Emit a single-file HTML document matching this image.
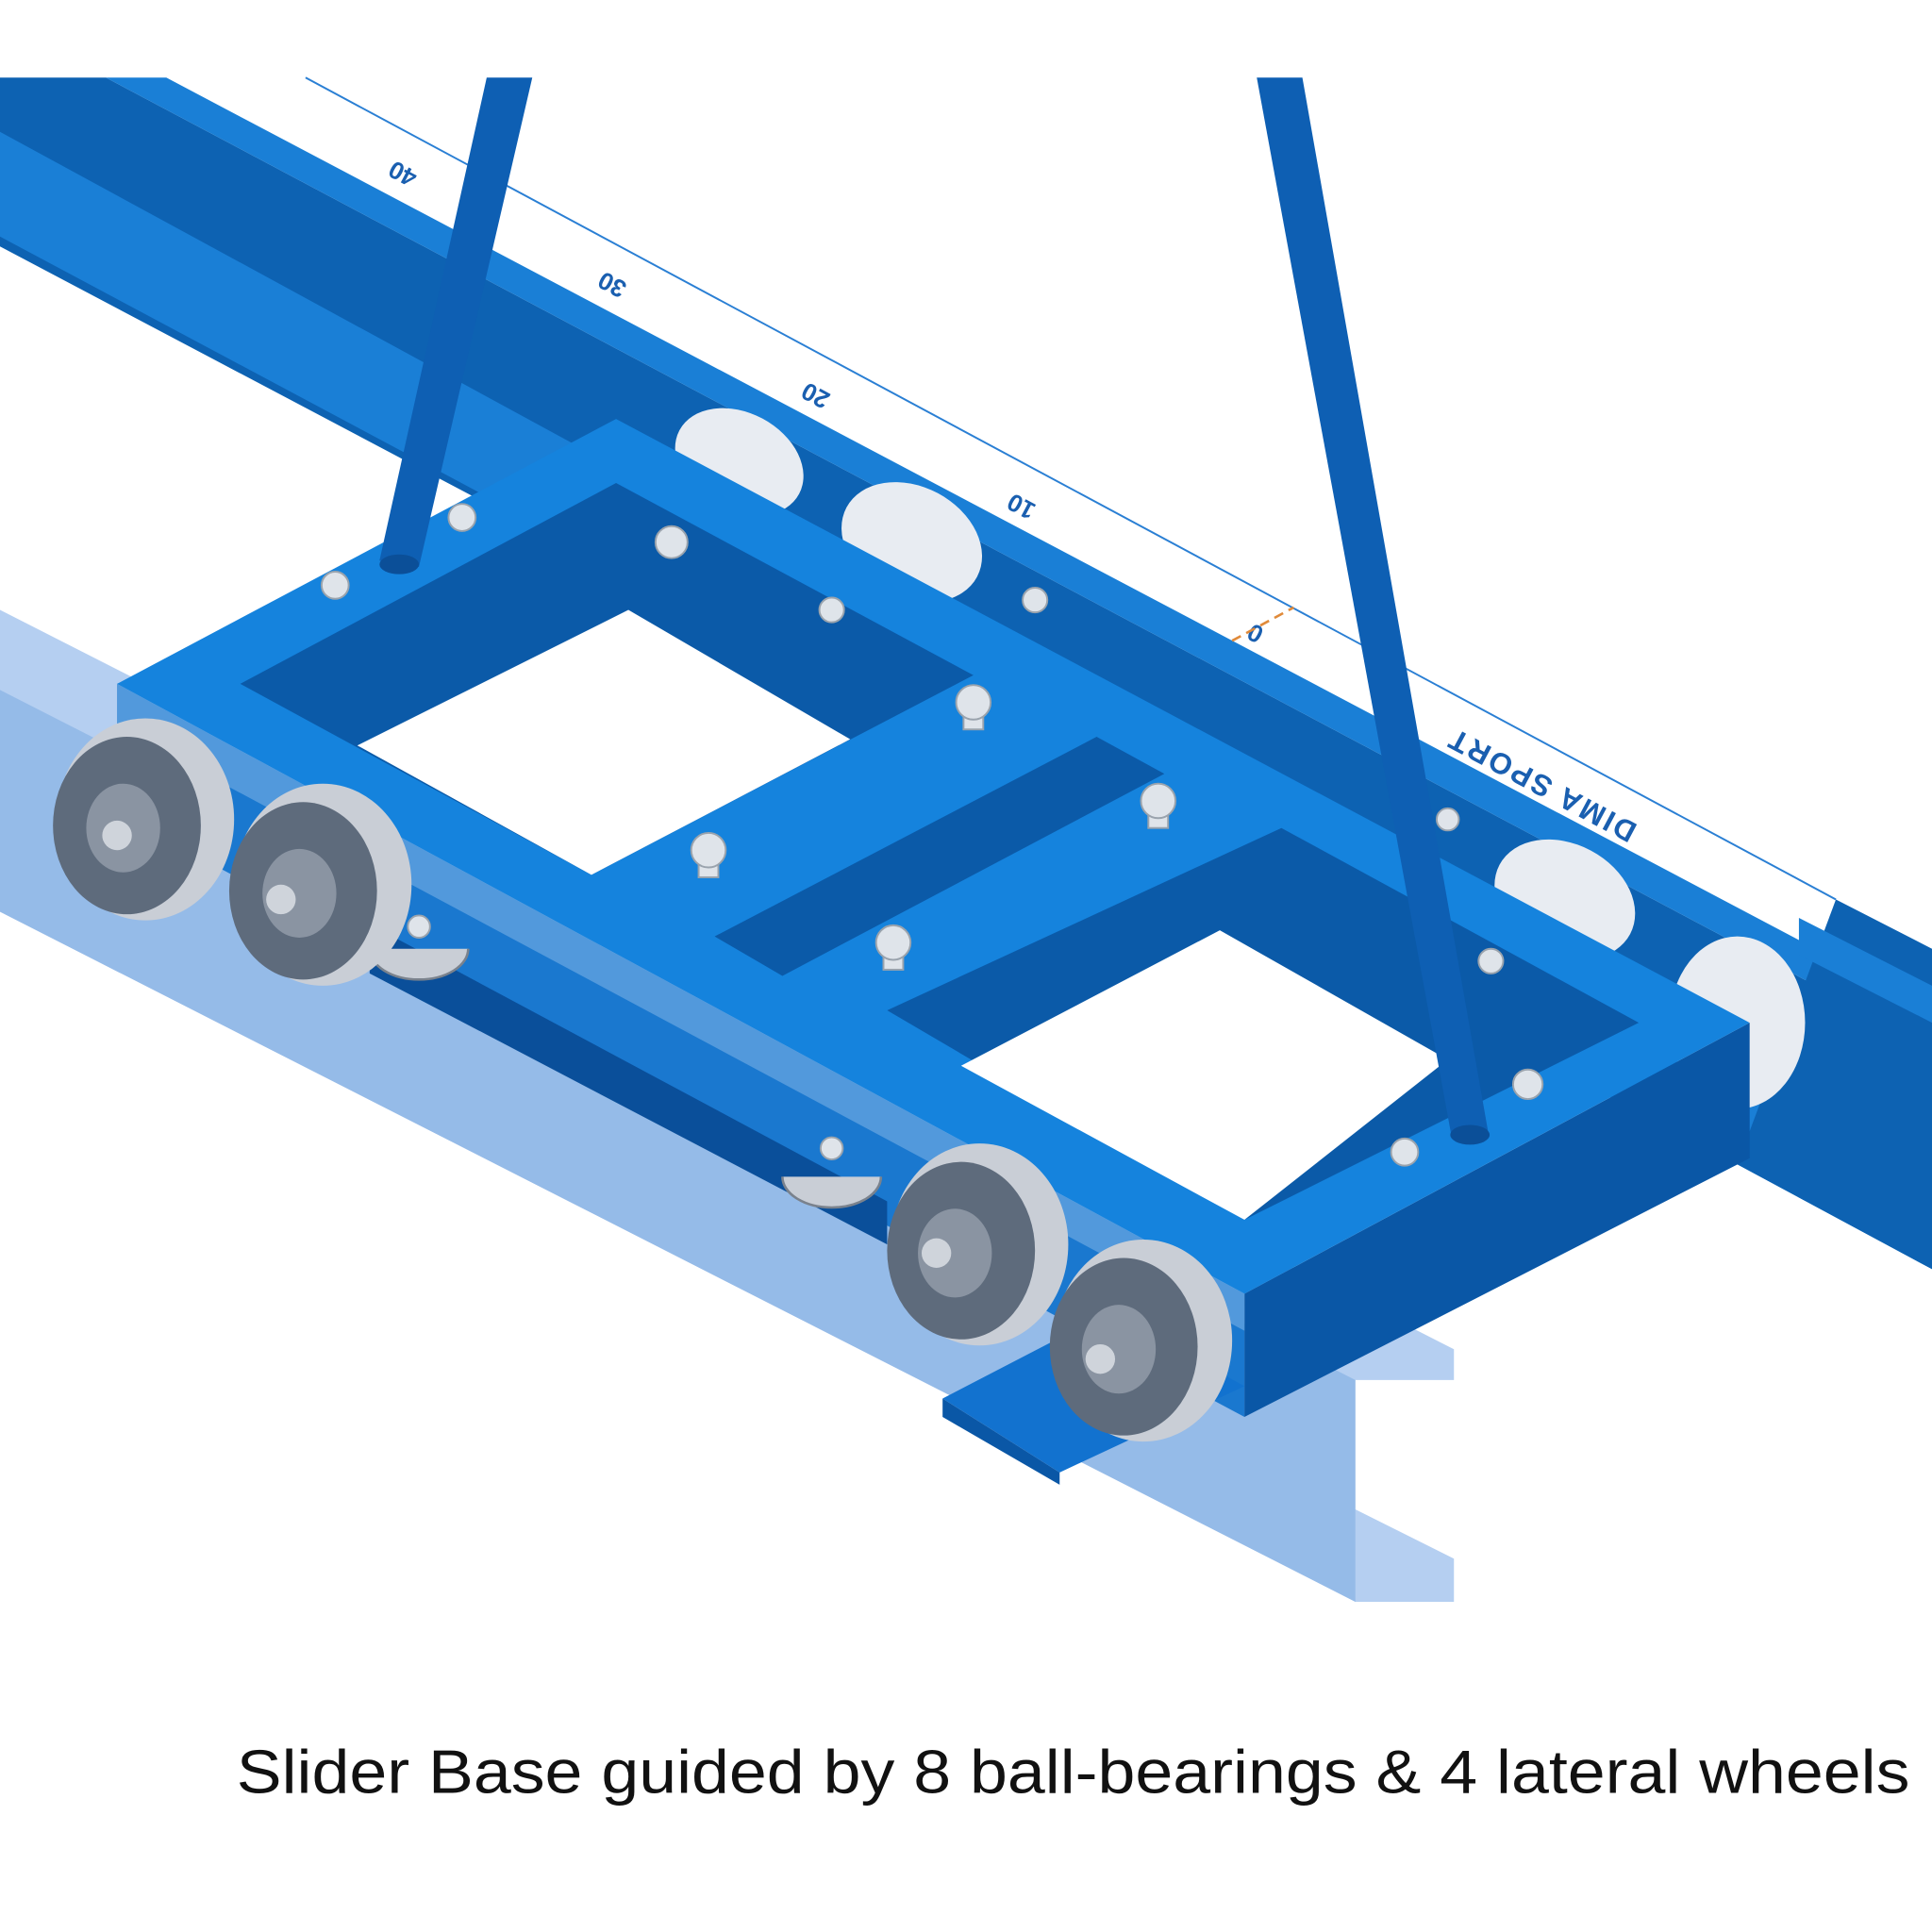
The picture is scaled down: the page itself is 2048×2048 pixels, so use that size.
<!DOCTYPE html>
<html><head><meta charset="utf-8"><style>
html,body{margin:0;padding:0;background:#fff;}
svg{display:block;}
</style></head><body>
<svg width="2048" height="2048" viewBox="0 0 1568 1568" xmlns="http://www.w3.org/2000/svg">
<rect width="1568" height="1568" fill="#fff"/>
<!-- transparent lower rail (I-beam) -->
<polygon points="0,465 0,740 1100,1300 1180,1300 1180,1265 1100,1225 1100,1120 1180,1120 1180,1095 0,495" fill="#a8c7ee" opacity="0.85"/>
<polygon points="0,540 0,740 1100,1300 1100,1120 0,560" fill="#8db5e6" opacity="0.8"/>
<!-- top rail -->
<polygon points="0,63 86,63 1568,850 1568,1030 1410,945 0,200" fill="#0d62b2"/>
<polygon points="0,107 0,192 1410,945 1568,1030 1568,960 0,107" fill="#1a7fd6"/>
<polygon points="86,63 135,63 1568,820 1568,850" fill="#1a7fd6"/>
<polygon points="1490,730 1568,770 1568,1030 1410,945" fill="#0d62b2"/>
<polygon points="1460,745 1568,800 1568,830 1460,775" fill="#1a7fd6"/>
<line x1="248" y1="63" x2="1490" y2="730" stroke="#2a7fd4" stroke-width="1.5"/>
<!-- ruler text -->
<g font-family="Liberation Sans, sans-serif" font-weight="bold" font-size="20" fill="#1a5fb0">
<text transform="translate(330,135) rotate(208)" text-anchor="middle">40</text>
<text transform="translate(500,225) rotate(208)" text-anchor="middle">30</text>
<text transform="translate(665,315) rotate(208)" text-anchor="middle">20</text>
<text transform="translate(832,405) rotate(208)" text-anchor="middle">10</text>
<text transform="translate(1022,508) rotate(208)" text-anchor="middle">0</text>
<text transform="translate(1255,630) rotate(208)" text-anchor="middle" font-size="24" letter-spacing="2">DIMA SPORT</text>
</g>
<line x1="1000" y1="520" x2="1050" y2="493" stroke="#e08a3a" stroke-width="2" stroke-dasharray="8,5"/>
<!-- ball bearings on top rail -->
<ellipse cx="600" cy="375" rx="55" ry="40" fill="#e8ecf2" transform="rotate(28 600 375)"/>
<ellipse cx="740" cy="440" rx="60" ry="45" fill="#e8ecf2" transform="rotate(28 740 440)"/>
<ellipse cx="1270" cy="730" rx="60" ry="45" fill="#e8ecf2" transform="rotate(28 1270 730)"/>
<ellipse cx="1410" cy="830" rx="55" ry="70" fill="#e8ecf2"/>
<!-- frame side faces -->
<polygon points="95,555 1010,1050 1010,1150 95,660" fill="#1a78cf"/>
<polygon points="1010,1050 1420,830 1420,940 1010,1150" fill="#0a57a6"/>
<!-- dark bar under frame -->
<polygon points="300,750 720,975 720,1010 300,790" fill="#0a4f9a"/>
<!-- frame top -->
<polygon points="95,555 500,340 1420,830 1010,1050" fill="#1583dd"/>
<!-- hole 1 -->
<polygon points="195,555 500,392 790,548 480,710" fill="#0b5aa8"/>
<polygon points="290,605 510,495 690,600 480,710" fill="#fff"/>
<!-- middle crossbar dark -->
<polygon points="580,760 890,598 945,628 635,792" fill="#0b5aa8"/>
<!-- hole 2 -->
<polygon points="720,820 1040,672 1330,830 1010,990" fill="#0b5aa8"/>
<polygon points="780,865 990,755 1175,860 1010,990" fill="#fff"/>
<!-- transparent flange overlay on front face -->
<polygon points="95,555 1010,1050 1010,1080 95,590" fill="#bcd6f3" opacity="0.35"/>
<!-- lower plate -->
<polygon points="765,1135 900,1065 1010,1125 860,1195" fill="#1272cf"/>
<polygon points="765,1135 860,1195 860,1205 765,1150" fill="#0a57a6"/>
<!-- rods -->
<polygon points="395,63 432,63 340,460 308,455" fill="#0e5fb3"/>
<polygon points="1020,63 1057,63 1208,920 1178,922" fill="#0e5fb3"/>
<ellipse cx="324" cy="458" rx="16" ry="8" fill="#0b4f98"/>
<ellipse cx="1193" cy="921" rx="16" ry="8" fill="#0b4f98"/>
<!-- bolts -->
<g fill="#dfe4ea" stroke="#9aa3ad" stroke-width="1.5">
<circle cx="375" cy="420" r="11"/><circle cx="272" cy="475" r="11"/>
<circle cx="545" cy="440" r="13"/><circle cx="675" cy="495" r="10"/>
<circle cx="840" cy="487" r="10"/>
<rect x="782" y="570" width="16" height="22" /><circle cx="790" cy="570" r="14"/>
<rect x="932" y="650" width="16" height="22" /><circle cx="940" cy="650" r="14"/>
<rect x="567" y="690" width="16" height="22" /><circle cx="575" cy="690" r="14"/>
<rect x="717" y="765" width="16" height="22" /><circle cx="725" cy="765" r="14"/>
<circle cx="1240" cy="880" r="12"/>
<circle cx="1140" cy="935" r="11"/><circle cx="1175" cy="665" r="9"/>
<circle cx="1210" cy="780" r="10"/><circle cx="340" cy="752" r="9"/>
<circle cx="675" cy="932" r="9"/>
</g>
<!-- small lateral wheel brackets -->
<path d="M300,770 a40,25 0 0 0 80,0" fill="#c9ced6" stroke="#7a828d" stroke-width="2"/>
<path d="M635,955 a40,25 0 0 0 80,0" fill="#c9ced6" stroke="#7a828d" stroke-width="2"/>
<!-- big wheels -->
<g>
<ellipse cx="118" cy="665" rx="72" ry="82" fill="#c9ced6"/>
<ellipse cx="103" cy="670" rx="60" ry="72" fill="#5e6b7c"/>
<ellipse cx="100" cy="672" rx="30" ry="36" fill="#8a94a2"/>
<circle cx="95" cy="678" r="12" fill="#cfd4db"/>
<ellipse cx="262" cy="718" rx="72" ry="82" fill="#c9ced6"/>
<ellipse cx="246" cy="723" rx="60" ry="72" fill="#5e6b7c"/>
<ellipse cx="243" cy="725" rx="30" ry="36" fill="#8a94a2"/>
<circle cx="228" cy="730" r="12" fill="#cfd4db"/>
<ellipse cx="795" cy="1010" rx="72" ry="82" fill="#c9ced6"/>
<ellipse cx="780" cy="1015" rx="60" ry="72" fill="#5e6b7c"/>
<ellipse cx="775" cy="1017" rx="30" ry="36" fill="#8a94a2"/>
<circle cx="760" cy="1017" r="12" fill="#cfd4db"/>
<ellipse cx="928" cy="1088" rx="72" ry="82" fill="#c9ced6"/>
<ellipse cx="912" cy="1093" rx="60" ry="72" fill="#5e6b7c"/>
<ellipse cx="908" cy="1095" rx="30" ry="36" fill="#8a94a2"/>
<circle cx="893" cy="1103" r="12" fill="#cfd4db"/>
</g>
<!-- caption -->
<text x="192" y="1455" font-family="Liberation Sans, sans-serif" font-size="50" fill="#111" textLength="1358" lengthAdjust="spacingAndGlyphs">Slider Base guided by 8 ball-bearings &amp; 4 lateral wheels</text>
</svg>
</body></html>
